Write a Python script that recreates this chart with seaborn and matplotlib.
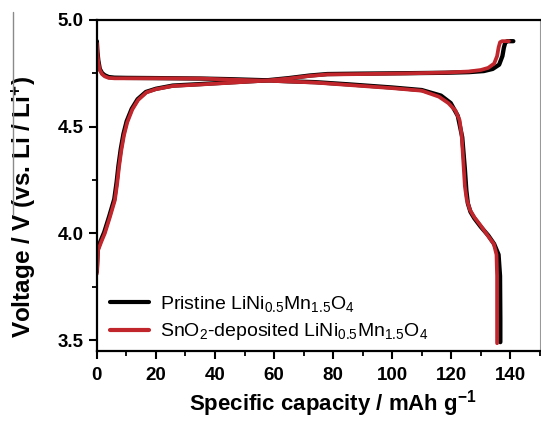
import numpy as np
import pandas as pd
import seaborn as sns
import matplotlib.pyplot as plt
from matplotlib.lines import Line2D
from matplotlib.ticker import MultipleLocator

# Galvanostatic charge / discharge profiles (capacity in mAh/g, voltage in V)
pristine_charge_cap = [0, 0.3, 1.3, 2.5, 4.2, 5.9, 6.7, 7.3, 8.1, 9.0, 10.1, 11.8, 13.8, 16.6, 20,
                       25.7, 35, 45, 57, 65, 72, 78, 90, 105, 118, 126, 131, 134, 136.2, 137.3,
                       137.8, 138.3, 139, 141]
pristine_charge_v = [3.82, 3.925, 3.965, 4.005, 4.08, 4.16, 4.24, 4.315, 4.395, 4.465, 4.525, 4.583,
                     4.628, 4.662, 4.677, 4.692, 4.699, 4.707, 4.716, 4.727, 4.739, 4.746, 4.748,
                     4.750, 4.752, 4.755, 4.76, 4.77, 4.79, 4.83, 4.87, 4.895, 4.9, 4.9]

pristine_dis_cap = [0, 0.2, 0.5, 1.0, 1.8, 2.7, 4.0, 6, 10, 20, 35, 45, 57, 65, 74, 85, 100, 110,
                    116.5, 119.8, 122.2, 123.7, 124.6, 125.1, 125.6, 126.5, 127.8, 130, 132.5,
                    134.5, 136, 136.5, 136.6, 136.6]
pristine_dis_v = [4.9, 4.85, 4.81, 4.77, 4.75, 4.74, 4.732, 4.729, 4.728, 4.727, 4.725, 4.722, 4.717,
                  4.712, 4.708, 4.698, 4.683, 4.671, 4.645, 4.61, 4.55, 4.45, 4.3, 4.2, 4.14, 4.1,
                  4.07, 4.03, 3.99, 3.95, 3.9, 3.8, 3.6, 3.49]

sno2_charge_cap = [0, 0.4, 1.5, 2.7, 4.4, 6.1, 6.9, 7.5, 8.3, 9.2, 10.3, 12.0, 14.0, 16.8, 20,
                   25.7, 35, 45, 57, 65, 72, 78, 90, 105, 118, 126, 130, 132.5, 134.5, 135.5,
                   136.0, 136.5, 137.2, 139.5]
sno2_charge_v = [3.81, 3.92, 3.96, 4.00, 4.075, 4.155, 4.235, 4.31, 4.39, 4.46, 4.52, 4.58, 4.625,
                 4.66, 4.675, 4.69, 4.697, 4.705, 4.715, 4.725, 4.737, 4.744, 4.746, 4.749, 4.753,
                 4.758, 4.765, 4.775, 4.795, 4.83, 4.87, 4.895, 4.9, 4.9]

sno2_dis_cap = [0, 0.2, 0.5, 1.0, 1.8, 2.7, 4.0, 6, 10, 20, 35, 45, 57, 65, 74, 85, 100, 110,
                115.8, 119, 121.4, 122.8, 123.5, 124.1, 124.6, 125.2, 126.3, 127.8, 130, 132.3,
                134.4, 135.3, 135.5, 135.5]
sno2_dis_v = [4.89, 4.84, 4.80, 4.765, 4.745, 4.735, 4.728, 4.726, 4.726, 4.726, 4.725, 4.72, 4.715,
              4.711, 4.706, 4.695, 4.68, 4.668, 4.64, 4.61, 4.575, 4.53, 4.46, 4.33, 4.22, 4.16,
              4.11, 4.075, 4.035, 3.99, 3.95, 3.9, 3.8, 3.485]

labels = ["Pristine LiNi$_{0.5}$Mn$_{1.5}$O$_4$",
          "SnO$_2$-deposited LiNi$_{0.5}$Mn$_{1.5}$O$_4$"]
colors = ["#000000", "#c0262b"]
x_ticks = [0, 20, 40, 60, 80, 100, 120, 140]
y_ticks = [3.5, 4.0, 4.5, 5.0]

sns.set_style("ticks")
plt.rcParams["font.family"] = ["Liberation Sans", "DejaVu Sans"]
plt.rcParams["mathtext.default"] = "regular"
plt.rcParams["text.color"] = "black"
plt.rcParams["axes.labelcolor"] = "black"
plt.rcParams["xtick.color"] = "black"
plt.rcParams["ytick.color"] = "black"

fig = plt.figure(figsize=(5.41, 4.22), dpi=100)
ax = fig.add_axes([0.179, 0.168, 0.819, 0.785])

curves = [
    (pristine_charge_cap, pristine_charge_v, 0, 3.1),
    (pristine_dis_cap, pristine_dis_v, 0, 3.1),
    (sno2_charge_cap, sno2_charge_v, 1, 2.7),
    (sno2_dis_cap, sno2_dis_v, 1, 2.7),
]
for cap, volt, idx, lw in curves:
    df = pd.DataFrame({"cap": cap, "V": volt})
    sns.lineplot(data=df, x="cap", y="V", sort=False, estimator=None,
                 color=colors[idx], lw=lw, ax=ax, legend=False)

ax.set_xlim(0, 150)
ax.set_ylim(3.448, 5.0)
ax.set_xticks(x_ticks)
ax.set_yticks(y_ticks)
ax.set_yticklabels([f"{v:.1f}" for v in y_ticks])
ax.xaxis.set_minor_locator(MultipleLocator(10))
ax.yaxis.set_minor_locator(MultipleLocator(0.25))
ax.tick_params(which="major", direction="out", length=5.5, width=1.5, labelsize=13.5, pad=4)
ax.tick_params(axis="x", which="major", pad=6)
ax.tick_params(which="minor", direction="out", length=3.5, width=1.3)
for lbl in ax.get_xticklabels() + ax.get_yticklabels():
    lbl.set_fontweight("bold")

for side in ["left", "bottom", "top"]:
    ax.spines[side].set_visible(True)
    ax.spines[side].set_linewidth(1.6)
    ax.spines[side].set_color("black")
ax.spines["right"].set_visible(True)
ax.spines["right"].set_linewidth(0.8)
ax.spines["right"].set_color("#999999")

ax.set_xlabel("Specific capacity / mAh g$^{-1}$", fontsize=16, fontweight="bold")
ax.set_ylabel("Voltage / V (vs. Li / Li$^{+}$)", fontsize=17.5, fontweight="bold")
ax.xaxis.set_label_coords(0.533, -0.112)
ax.yaxis.set_label_coords(-0.133, 0.435)

handles = [Line2D([], [], color=c, lw=3) for c in colors]
ax.legend(handles, labels, loc="lower left", frameon=False, fontsize=14,
          handlelength=2.0, handletextpad=0.55, labelspacing=0.4,
          borderaxespad=0.3, bbox_to_anchor=(0.0, -0.015))

# thin grey rule beside the axis title
fig.add_artist(Line2D([13 / 541, 13 / 541], [1 - 12 / 422, 1 - 215 / 422],
                      color="#8a8a8a", lw=1.0, transform=fig.transFigure))

fig.savefig("out.png", dpi=100)
